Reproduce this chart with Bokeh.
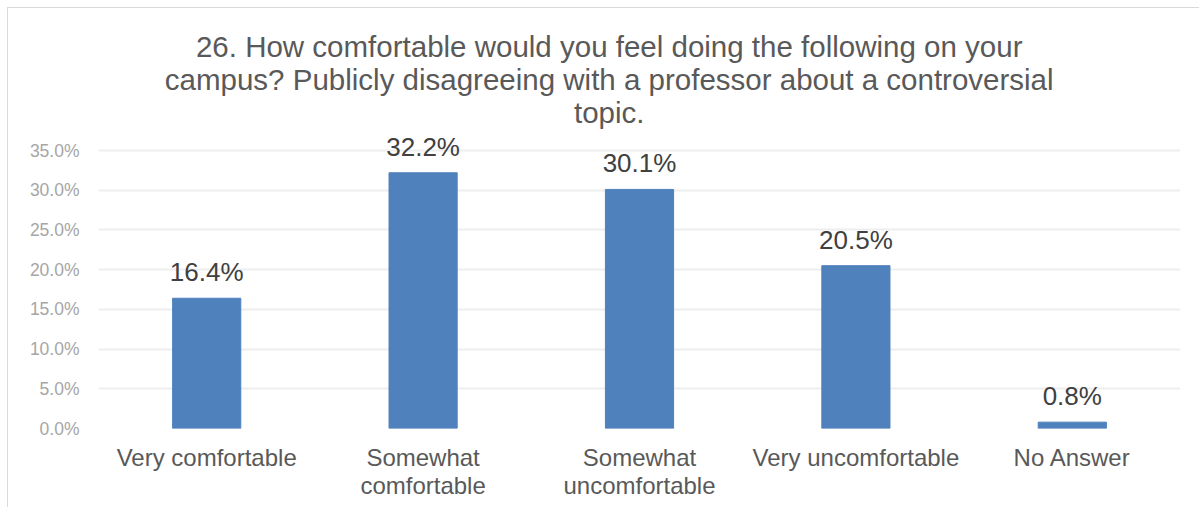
from bokeh.plotting import figure
from bokeh.models import ColumnDataSource, FactorRange, Range1d, Label, LabelSet, FixedTicker
from bokeh.core.properties import value
from bokeh.embed import file_html
from bokeh.resources import INLINE

categories = ["Very comfortable", "Somewhat\ncomfortable", "Somewhat\nuncomfortable", "Very uncomfortable", "No Answer"]
values = [16.4, 32.2, 30.1, 20.5, 0.8]
value_labels = ["16.4%", "32.2%", "30.1%", "20.5%", "0.8%"]
y_ticks = [0, 5, 10, 15, 20, 25, 30, 35]
title_lines = [
    "26. How comfortable would you feel doing the following on your",
    "campus? Publicly disagreeing with a professor about a controversial",
    "topic.",
]

FONT = "Liberation Sans"

source = ColumnDataSource(data=dict(cat=categories, val=values, lab=value_labels))

p = figure(
    width=1192, height=500,
    x_range=FactorRange(*categories, range_padding=0),
    y_range=Range1d(0, 52.88),
    output_backend="svg", toolbar_location=None,
    min_border_left=90, min_border_right=20, min_border_top=0, min_border_bottom=80,
)
p.styles = {"margin-left": "7px", "margin-top": "7px",
            "border-left": "1px solid #D9D9D9", "border-top": "1px solid #D9D9D9"}
p.outline_line_color = None
p.background_fill_color = "white"
p.border_fill_color = "white"

p.vbar(x="cat", top="val", width=0.315, source=source, fill_color="#4F81BD", line_color="#4F81BD")

labels = LabelSet(x="cat", y="val", text="lab", source=source, text_align="center", text_baseline="middle",
                  y_offset=26, text_font=value(FONT), text_font_size="26px", text_color="#404040")
p.add_layout(labels)

# title lines
title_y = [48.09, 43.94, 39.78]
for line, ty in zip(title_lines, title_y):
    p.add_layout(Label(x=2.36, y=ty, text=line, text_align="center", text_baseline="middle",
                       text_font=FONT, text_font_size="29.5px", text_color="#595959"))

p.yaxis.ticker = FixedTicker(ticks=y_ticks)
p.yaxis.major_label_overrides = {t: f"{t:.1f}%" for t in y_ticks}
p.yaxis.axis_line_color = None
p.yaxis.major_tick_line_color = None
p.yaxis.minor_tick_line_color = None
p.yaxis.major_label_text_font = FONT
p.yaxis.major_label_text_font_size = "17.5px"
p.yaxis.major_label_text_color = "#A6A6A6"
p.yaxis.major_label_standoff = 13

p.xaxis.axis_line_color = None
p.xaxis.major_tick_line_color = None
p.xaxis.minor_tick_line_color = None
p.xaxis.major_label_text_font = FONT
p.xaxis.major_label_text_font_size = "24px"
p.xaxis.major_label_text_color = "#595959"
p.xaxis.major_label_text_line_height = 1.04
p.xaxis.major_label_standoff = 9

p.xgrid.grid_line_color = None
p.ygrid.grid_line_color = "#EEEEEE"
p.ygrid.grid_line_width = 2

open("out.html", "w").write(file_html(p, INLINE))
